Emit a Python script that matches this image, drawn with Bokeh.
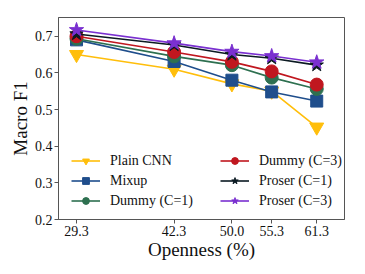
from bokeh.plotting import figure
from bokeh.models import FixedTicker, Range1d, Legend, LegendItem
from bokeh.embed import file_html
from bokeh.resources import INLINE

openness = [29.3, 42.3, 50.0, 55.3, 61.3]
x_labels = ["29.3", "42.3", "50.0", "55.3", "61.3"]
y_ticks = [0.2, 0.3, 0.4, 0.5, 0.6, 0.7]

plain_cnn = [0.650, 0.610, 0.570, 0.550, 0.452]
mixup = [0.690, 0.631, 0.580, 0.548, 0.523]
dummy_c1 = [0.693, 0.645, 0.621, 0.587, 0.556]
dummy_c3 = [0.700, 0.657, 0.630, 0.604, 0.568]
proser_c1 = [0.706, 0.676, 0.650, 0.640, 0.621]
proser_c3 = [0.717, 0.681, 0.658, 0.646, 0.629]

series = [
    ("Plain CNN", plain_cnn, "#FFBE0B", "inverted_triangle", 14),
    ("Mixup", mixup, "#1F4E8C", "square", 12),
    ("Dummy (C=1)", dummy_c1, "#2E7050", "circle", 13),
    ("Dummy (C=3)", dummy_c3, "#C0171F", "circle", 13),
    ("Proser (C=1)", proser_c1, "#0B1A22", "star", 14),
    ("Proser (C=3)", proser_c3, "#7A30D0", "star", 15),
]

p = figure(width=365, height=274, output_backend="svg", toolbar_location=None,
           x_range=Range1d(26.9, 65.0), y_range=Range1d(0.2, 0.751),
           min_border_left=58, min_border_right=21, min_border_top=17, min_border_bottom=55)

items = []
for name, ys, color, marker, size in series:
    r1 = p.line(openness, ys, line_color=color, line_width=1.6)
    r2 = p.scatter(openness, ys, marker=marker, size=size, fill_color=color, line_color=color)
    items.append(LegendItem(label=name, renderers=[r1, r2]))

legend = Legend(items=items, ncols=2, location=(8, 5), padding=5, margin=0,
                spacing=3, label_width=107, glyph_width=29, glyph_height=17,
                label_standoff=10, label_text_font="Liberation Serif",
                label_text_font_size="14px", label_text_color="#111111",
                border_line_alpha=0, background_fill_alpha=0)
p.add_layout(legend, "center")

p.xgrid.visible = False
p.ygrid.visible = False
p.outline_line_color = "#555555"
p.outline_line_width = 1

p.xaxis.ticker = FixedTicker(ticks=openness)
p.xaxis.major_label_overrides = {x: l for x, l in zip(openness, x_labels)}
p.yaxis.ticker = FixedTicker(ticks=y_ticks)
p.xaxis.axis_label = "Openness (%)"
p.yaxis.axis_label = "Macro F1"
for ax in (p.xaxis[0], p.yaxis[0]):
    ax.axis_line_color = "#555555"
    ax.major_tick_line_color = "#555555"
    ax.major_tick_out = 4
    ax.major_tick_in = 0
    ax.minor_tick_line_color = None
    ax.major_label_text_font = "Liberation Serif"
    ax.major_label_text_font_size = "14px"
    ax.major_label_text_color = "#111111"
    ax.axis_label_text_font = "Liberation Serif"
    ax.axis_label_text_font_size = "19px"
    ax.axis_label_text_font_style = "normal"
    ax.axis_label_text_color = "#111111"
    ax.major_label_standoff = 2
p.xaxis[0].axis_label_standoff = 0
p.yaxis[0].axis_label_standoff = 1

open("out.html", "w").write(file_html(p, INLINE))
